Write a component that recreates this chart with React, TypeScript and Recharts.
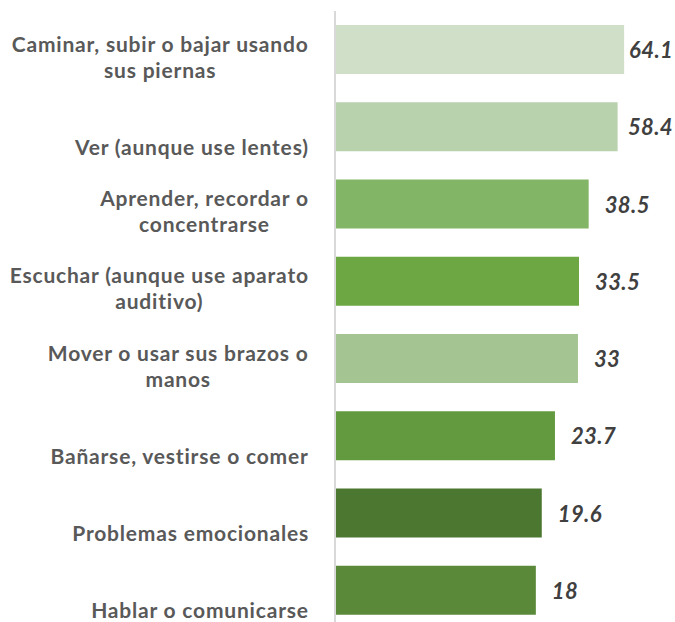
import { BarChart, Bar, XAxis, YAxis, Cell, LabelList } from 'recharts';

const categories = [
  'Caminar, subir o bajar usando sus piernas',
  'Ver (aunque use lentes)',
  'Aprender, recordar o concentrarse',
  'Escuchar (aunque use aparato auditivo)',
  'Mover o usar sus brazos o manos',
  'Bañarse, vestirse o comer',
  'Problemas emocionales',
  'Hablar o comunicarse',
];

// how the labels wrap in the original
const tickLines = [
  ['Caminar, subir o bajar usando', 'sus piernas'],
  ['Ver (aunque use lentes)'],
  ['Aprender, recordar o', 'concentrarse'],
  ['Escuchar (aunque use aparato', 'auditivo)'],
  ['Mover o usar sus brazos o', 'manos'],
  ['Bañarse, vestirse o comer'],
  ['Problemas emocionales'],
  ['Hablar o comunicarse'],
];

const values = [64.1, 58.4, 38.5, 33.5, 33, 23.7, 19.6, 18];

const barColors = ['#d0dfc8', '#b8d2ae', '#83b566', '#6ca743', '#a4c591', '#639a3f', '#4c7731', '#5a8a39'];

const chartData = categories.map((name, i) => ({ name, value: values[i] }));

const TICK_FONT = 'bold 21px Lato';
const TICK_SPACING = 0.8;
const VALUE_FONT = 'italic bold 22px Lato';
const VALUE_SPACING = 0.4;

let ctx: CanvasRenderingContext2D | null = null;
const measure = (text: string, font: string, spacing: number) => {
  if (!ctx) ctx = document.createElement('canvas').getContext('2d');
  if (!ctx) return text.length * 10;
  ctx.font = font;
  return ctx.measureText(text).width + spacing * text.length;
};

const CategoryTick = (props: any) => {
  const { y, index } = props;
  const lines = tickLines[index] || [props.payload.value];
  const right = 309;
  const blockW = Math.max(...lines.map((l: string) => measure(l, TICK_FONT, TICK_SPACING)));
  const cx = right - blockW / 2;
  const lastBase = y + 28;
  return (
    <g>
      {lines.map((l: string, i: number) => (
        <text
          key={i}
          x={cx}
          y={lastBase - (lines.length - 1 - i) * 26}
          textAnchor="middle"
          fill="#595959"
          style={{ font: TICK_FONT, letterSpacing: TICK_SPACING }}
        >
          {l}
        </text>
      ))}
    </g>
  );
};

const ValueLabel = (props: any) => {
  const { x, y, width, height, value } = props;
  const text = String(value);
  const w = measure(text, VALUE_FONT, VALUE_SPACING);
  const limit = 673;
  const end = x + width;
  let lx = end + 16;
  if (lx + w > limit) lx = Math.max(end + 5, limit - w);
  return (
    <text
      x={lx}
      y={y + height / 2 + 8.5}
      fill="#404040"
      style={{ font: VALUE_FONT, letterSpacing: VALUE_SPACING }}
    >
      {text}
    </text>
  );
};

export default function App() {
  return (
    <div style={{ position: 'absolute', left: 0, top: 0, width: 675, height: 622, overflow: 'hidden', background: '#fff' }}>
      <BarChart
        width={675}
        height={640}
        data={chartData}
        layout="vertical"
        margin={{ top: 11, right: 20, bottom: 11, left: 0 }}
        barCategoryGap={0}
      >
        <XAxis type="number" scale="log" domain={[1, 100]} hide allowDataOverflow />
        <YAxis
          type="category"
          dataKey="name"
          width={335}
          tickLine={false}
          axisLine={{ stroke: '#d9d9d9', strokeWidth: 2 }}
          tick={<CategoryTick />}
          interval={0}
        />
        <Bar dataKey="value" barSize={49} isAnimationActive={false}>
          {chartData.map((d, i) => (
            <Cell key={d.name} fill={barColors[i]} />
          ))}
          <LabelList dataKey="value" content={<ValueLabel />} />
        </Bar>
      </BarChart>
    </div>
  );
}
